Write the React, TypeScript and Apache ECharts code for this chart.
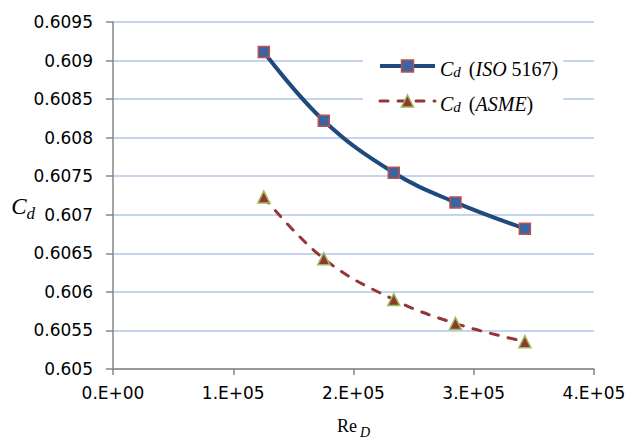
import React, { useEffect, useRef } from 'react';
import * as echarts from 'echarts';

// Reynolds numbers (x) and discharge coefficients (y)
const reynolds = [125400, 175300, 233500, 284800, 342500];
const cdISO = [0.60911, 0.60822, 0.607545, 0.60716, 0.60682];
const cdASME = [0.60723, 0.60643, 0.6059, 0.60559, 0.605355];

const seriesNames = ['Cd (ISO 5167)', 'Cd (ASME)'];

const xMin = 0;
const xMax = 400000;
const xStep = 100000;
const xTickLabels = ['0.E+00', '1.E+05', '2.E+05', '3.E+05', '4.E+05'];

const yMin = 0.605;
const yMax = 0.6095;
const yStep = 0.0005;
const yTickLabels = ['0.605', '0.6055', '0.606', '0.6065', '0.607', '0.6075', '0.608', '0.6085', '0.609', '0.6095'];

const SERIF = '"Liberation Serif", "Times New Roman", serif';
const SANS = '"DejaVu Sans", Arial, sans-serif';

export default function App() {
  const ref = useRef<HTMLDivElement>(null);

  useEffect(() => {
    if (!ref.current) return;
    const chart = echarts.init(ref.current, undefined, { renderer: 'svg' });

    const legendRich = {
      c: { fontFamily: SERIF, fontStyle: 'italic', fontSize: 20, lineHeight: 20, verticalAlign: 'top', padding: [3, 0, 0, 0], color: '#000' },
      d: { fontFamily: SERIF, fontStyle: 'italic', fontSize: 15, lineHeight: 15, verticalAlign: 'top', padding: [8, 8, 0, 0], color: '#000' },
      p: { fontFamily: SERIF, fontSize: 20, lineHeight: 20, verticalAlign: 'top', padding: [3, 0, 0, 0], color: '#000' },
      i: { fontFamily: SERIF, fontStyle: 'italic', fontSize: 20, lineHeight: 20, verticalAlign: 'top', padding: [3, 0, 0, 0], color: '#000' },
    };

    const option: any = {
      animation: false,
      backgroundColor: '#fff',
      grid: { left: 113, right: 40, top: 22, bottom: 72, containLabel: false, outerBoundsMode: 'none' },
      xAxis: {
        type: 'value',
        min: xMin,
        max: xMax,
        interval: xStep,
        name: '{r|Re}{s|D}',
        nameLocation: 'middle',
        nameGap: 48,
        nameMoveOverlap: false,
        nameTextStyle: {
          rich: {
            r: { fontFamily: SERIF, fontSize: 18, lineHeight: 18, verticalAlign: 'top', padding: [0, 3, 0, 0], color: '#000' },
            s: { fontFamily: SERIF, fontStyle: 'italic', fontSize: 14, lineHeight: 14, verticalAlign: 'top', padding: [8, 0, 0, 0], color: '#000' },
          },
        },
        axisLine: { show: true, lineStyle: { color: '#868686', width: 1.5 } },
        axisTick: { show: true, inside: false, length: 6, lineStyle: { color: '#868686', width: 1.5 } },
        axisLabel: {
          fontFamily: SANS,
          fontSize: 17,
          color: '#000',
          margin: 15,
          formatter: (v: number) => xTickLabels[Math.round((v - xMin) / xStep)] ?? '',
        },
        splitLine: { show: false },
      },
      yAxis: {
        type: 'value',
        min: yMin,
        max: yMax,
        interval: yStep,
        name: '{c|C}{d|d}',
        nameLocation: 'middle',
        nameRotate: 0,
        nameGap: 78,
        nameMoveOverlap: false,
        nameTextStyle: {
          padding: [22, 0, 0, 0],
          rich: {
            c: { fontFamily: SERIF, fontStyle: 'italic', fontSize: 23, lineHeight: 23, verticalAlign: 'top', padding: [0, 0, 0, 0], color: '#000' },
            d: { fontFamily: SERIF, fontStyle: 'italic', fontSize: 17, lineHeight: 17, verticalAlign: 'top', padding: [10, 0, 0, 0], color: '#000' },
          },
        },
        axisLine: { show: true, lineStyle: { color: '#868686', width: 1.5 } },
        axisTick: { show: true, inside: false, length: 7, lineStyle: { color: '#868686', width: 1.5 } },
        axisLabel: {
          fontFamily: SANS,
          fontSize: 17,
          color: '#000',
          margin: 20,
          formatter: (v: number) => yTickLabels[Math.round((v - yMin) / yStep)] ?? '',
        },
        splitLine: { show: true, lineStyle: { color: '#b4c6e7', width: 1.5 } },
      },
      legend: {
        orient: 'vertical',
        left: 363,
        top: 48,
        padding: [8, 5, 8, 15],
        itemGap: 12,
        itemWidth: 55,
        itemHeight: 15,
        backgroundColor: '#fff',
        data: [
          { name: seriesNames[0], lineStyle: { width: 4, color: '#1f4a7e' }, itemStyle: { borderWidth: 1.5, borderColor: '#c0504d', color: '#3b64a0' } },
          { name: seriesNames[1], lineStyle: { width: 3, color: '#943634', type: [8, 10], cap: 'round' }, itemStyle: { borderWidth: 1.5, borderColor: '#9bbb59', color: '#943634' } },
        ],
        formatter: (name: string) =>
          name === seriesNames[0]
            ? '{c|C}{d|d}{p|(}{i|ISO}{p| 5167)}'
            : '{c|C}{d|d}{p|(}{i|ASME}{p|)}',
        textStyle: { rich: legendRich },
      },
      series: [
        {
          name: seriesNames[0],
          type: 'line',
          smooth: 0.4,
          data: reynolds.map((x, i) => [x, cdISO[i]]),
          symbol: 'rect',
          symbolSize: 11,
          lineStyle: { color: '#1f4a7e', width: 4 },
          itemStyle: { color: '#3b64a0', borderColor: '#c0504d', borderWidth: 1.5 },
          z: 3,
        },
        {
          name: seriesNames[1],
          type: 'line',
          smooth: 0.4,
          data: reynolds.map((x, i) => [x, cdASME[i]]),
          symbol: 'triangle',
          symbolSize: 12,
          lineStyle: { color: '#943634', width: 3, type: [8, 10], cap: 'round' },
          itemStyle: { color: '#943634', borderColor: '#9bbb59', borderWidth: 1.5 },
          z: 2,
        },
      ],
    };

    chart.setOption(option);
    return () => chart.dispose();
  }, []);

  return (
    <div
      ref={ref}
      style={{ position: 'fixed', left: 0, top: 0, width: 634, height: 441, background: '#fff' }}
    />
  );
}
